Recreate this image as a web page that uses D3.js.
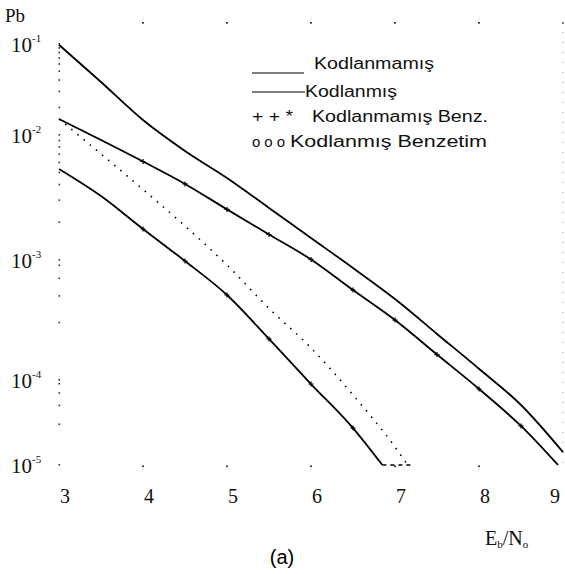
<!DOCTYPE html>
<html>
<head>
<meta charset="utf-8">
<script src="https://cdn.jsdelivr.net/npm/d3@7"></script>
<style>
  body { margin: 0; background: #fff; }
  svg { display: block; }
</style>
</head>
<body>
<script>
// values
const xTicks = [3, 4, 5, 6, 7, 8, 9];
const yTicks = [1e-1, 1e-2, 1e-3, 1e-4, 1e-5];
const yExp = ["-1", "-2", "-3", "-4", "-5"];

const ebnoA = [3, 3.5, 4, 4.5, 5, 5.5, 6, 6.5, 7, 7.5, 8, 8.5, 9];
const uncoded = [0.098, 0.0382, 0.0146, 0.00745, 0.00453, 0.00261, 0.00150, 0.000858, 0.000473, 0.000242, 0.000124, 5.08e-5, 1.42e-5];

const ebnoB = [3, 3.5, 4, 4.5, 5, 5.5, 6, 6.5, 7, 7.5, 8, 8.5, 8.94];
const coded = [0.0150, 0.00912, 0.00614, 0.00406, 0.00254, 0.00160, 0.00101, 0.000562, 0.000316, 0.000163, 7.84e-5, 2.88e-5, 1e-5];

const ebnoC = [3, 3.5, 4, 4.5, 5, 5.5, 6, 6.5, 7, 7.15];
const dotted = [0.0150, 0.00705, 0.00367, 0.00187, 0.000908, 0.000395, 0.000185, 6.66e-5, 1.63e-5, 1e-5];

const ebnoD = [3, 3.5, 4, 4.5, 5, 5.5, 6, 6.5, 6.85];
const lower = [0.00535, 0.00325, 0.00177, 0.000981, 0.000511, 0.000220, 8.97e-5, 2.72e-5, 1e-5];

const legendItems = ["Kodlanmamış", "Kodlanmış", "Kodlanmamış Benz.", "Kodlanmış Benzetim"];

const W = 565, H = 574;
const svg = d3.select("body").append("svg").attr("width", W).attr("height", H);

const x = d3.scaleLinear().domain([3, 9]).range([59, 563]);
// the scan is not evenly spaced per decade, so map each decade on its own
const y = d3.scaleLog().domain([1e-5, 1e-4, 1e-3, 1e-2, 1e-1]).range([465, 380, 260, 135, 44]);

const serif = "'Liberation Serif', 'DejaVu Serif', serif";
const sans = "'Liberation Sans', Arial, sans-serif";

// left axis: sparse dots at the minor log ticks
const minor = [];
for (let e = -5; e < -1; e++) for (let m = 1; m < 10; m += (e < -3 ? 2 : 1)) minor.push(m * Math.pow(10, e));
minor.push(1e-1);
svg.append("g").selectAll("rect").data(minor).join("rect")
  .attr("x", 58.5).attr("y", d => y(d) - 1)
  .attr("width", 1.6).attr("height", 1.6).attr("fill", "#333");

// top and bottom frame dots at the integer ticks
svg.append("g").selectAll("rect").data(xTicks.slice(1)).join("rect")
  .attr("x", d => x(d) - 1).attr("y", 22).attr("width", 2).attr("height", 1.6).attr("fill", "#333");
svg.append("g").selectAll("rect").data(xTicks.slice(1, -1)).join("rect")
  .attr("x", d => x(d) - 1).attr("y", y(1e-5) + 0.5).attr("width", 2).attr("height", 1.6).attr("fill", "#333");
// faint right border
svg.append("line").attr("x1", x(9)).attr("x2", x(9)).attr("y1", 22).attr("y2", y(1e-5))
  .attr("stroke", "#999").attr("stroke-width", 1).attr("stroke-dasharray", "1,9");

// tick labels
const yl = svg.append("g").attr("font-family", serif).attr("fill", "#111");
yTicks.forEach((v, i) => {
  const t = yl.append("text").attr("x", 11).attr("y", y(v) + 8).attr("font-size", 21);
  t.append("tspan").text("10");
  t.append("tspan").attr("font-size", 11).attr("dy", -10).text(yExp[i]);
});
svg.append("g").selectAll("text").data(xTicks).join("text")
  .attr("x", d => Math.min(x(d) + 6, 555)).attr("y", 503)
  .attr("text-anchor", "middle").attr("font-family", serif).attr("font-size", 20).attr("fill", "#111")
  .text(d => d);

svg.append("text").attr("x", 5).attr("y", 22).attr("font-family", serif).attr("font-size", 19)
  .attr("fill", "#111").text("Pb");

const xt = svg.append("text").attr("x", 485).attr("y", 545).attr("font-family", serif)
  .attr("font-size", 20).attr("fill", "#111");
xt.append("tspan").text("E");
xt.append("tspan").attr("font-size", 11).attr("dy", 3).text("b");
xt.append("tspan").attr("dy", -3).text("/N");
xt.append("tspan").attr("font-size", 11).attr("dy", 3).text("o");

svg.append("text").attr("x", 282).attr("y", 564).attr("text-anchor", "middle")
  .attr("font-family", sans).attr("font-size", 20).attr("fill", "#000").text("(a)");

// curves
const line = d3.line().x(d => x(d[0])).y(d => y(d[1])).curve(d3.curveMonotoneX);
const zip = (a, b) => a.map((v, i) => [v, b[i]]);

const curves = [
  { pts: zip(ebnoA, uncoded), dash: null, marks: false },
  { pts: zip(ebnoB, coded), dash: null, marks: true },
  { pts: zip(ebnoC, dotted), dash: "1.5,6.5", marks: false },
  { pts: zip(ebnoD, lower), dash: null, marks: true }
];
curves.forEach(c => {
  svg.append("path").attr("d", line(c.pts)).attr("fill", "none")
    .attr("stroke", "#000").attr("stroke-width", c.dash ? 1.6 : 1.8)
    .attr("stroke-dasharray", c.dash);
  if (c.marks) {
    svg.append("g").selectAll("path").data(c.pts.slice(2, -1)).join("path")
      .attr("d", d => {
        const px = x(d[0]), py = y(d[1]);
        return `M${px - 2.5},${py}H${px + 2.5}M${px},${py - 2.5}V${py + 2.5}`;
      })
      .attr("stroke", "#000").attr("stroke-width", 1.2);
  }
});
// short dashed floor where the dotted curve runs out
svg.append("line").attr("x1", x(ebnoD[ebnoD.length - 1])).attr("x2", x(7.2))
  .attr("y1", y(1e-5)).attr("y2", y(1e-5))
  .attr("stroke", "#000").attr("stroke-width", 1.4).attr("stroke-dasharray", "4,4");

// legend
const lg = svg.append("g").attr("font-family", sans).attr("fill", "#111").attr("font-size", 16);
lg.append("line").attr("x1", 252).attr("x2", 304).attr("y1", 73).attr("y2", 73).attr("stroke", "#000").attr("stroke-width", 1.2);
lg.append("text").attr("x", 314).attr("y", 69).attr("textLength", 120).attr("lengthAdjust", "spacingAndGlyphs").text(legendItems[0]);
lg.append("line").attr("x1", 252).attr("x2", 305).attr("y1", 92).attr("y2", 92).attr("stroke", "#000").attr("stroke-width", 1.2);
lg.append("text").attr("x", 305).attr("y", 97).attr("textLength", 92).attr("lengthAdjust", "spacingAndGlyphs").text(legendItems[1]);
lg.append("text").attr("x", 252).attr("y", 122).attr("textLength", 41).attr("lengthAdjust", "spacingAndGlyphs").text("+ + *");
lg.append("text").attr("x", 312).attr("y", 122).attr("textLength", 176).attr("lengthAdjust", "spacingAndGlyphs").text(legendItems[2]);
lg.append("text").attr("x", 252).attr("y", 147).attr("font-size", 15).attr("textLength", 33).attr("lengthAdjust", "spacing").text("o o o");
lg.append("text").attr("x", 290).attr("y", 147).attr("textLength", 197).attr("lengthAdjust", "spacingAndGlyphs").text(legendItems[3]);
</script>
</body>
</html>
